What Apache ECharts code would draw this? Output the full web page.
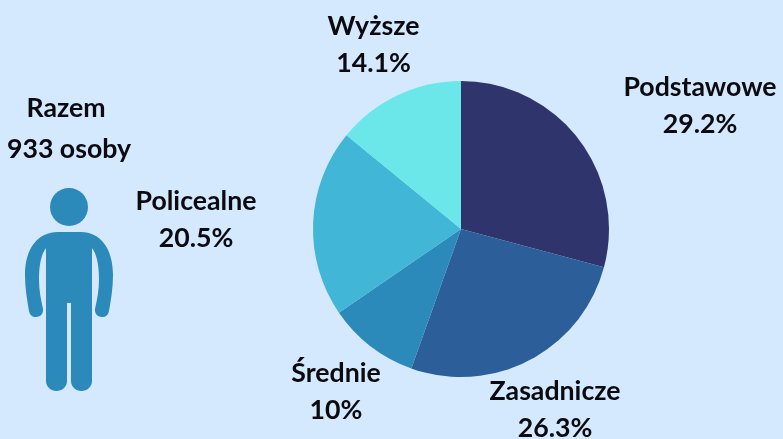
<!DOCTYPE html>
<html>
<head>
<meta charset="utf-8">
<style>html,body{margin:0;padding:0;background:#d4e9fe}#c{width:783px;height:439px}</style>
<script src="https://cdn.jsdelivr.net/npm/echarts@6/dist/echarts.min.js"></script>
</head>
<body>
<div id="c"></div>
<script>
const categories = ['Podstawowe', 'Zasadnicze', 'Średnie', 'Policealne', 'Wyższe'];
const values = [29.2, 26.3, 10, 20.5, 14.1];
const totalLines = ['Razem', '933 osoby'];

const colors = ['#2f346c', '#2c5f99', '#2c8aba', '#41b6d6', '#6be6e9'];
const labelCentres = [[700, 105.5], [555, 409.5], [336, 391.5], [196, 219.5], [373.5, 44.5]];
const font = 'Lato';
const personPath = 'M46 248 C41 255 39 265 39 280 C39 290 41 300 43 309 C43.5 314 40 317 36 317 C32 317 30 315 29 311 C27 300 25 288 25 275 C25 248 38 232 58 232 L81 232 C100 232 113 248 113 275 C113 288 111 300 109 311 C108 315 106 317 102 317 C98 317 94.5 314 95 309 C97 300 99 290 99 280 C99 265 97 255 92 248 L92 381 C92 387 87 391 81.5 391 C76 391 71 387 71 381 L71 303 L67 303 L67 381 C67 387 62 391 56.5 391 C51 391 46 387 46 381 Z';

const chart = echarts.init(document.getElementById('c'), null, {renderer: 'canvas'});
chart.setOption({
  backgroundColor: '#d4e9fe',
  animation: false,
  color: colors,
  series: [{
    type: 'pie',
    center: [461, 229],
    radius: [0, 148],
    startAngle: 90,
    clockwise: true,
    silent: true,
    data: categories.map((name, i) => ({name, value: values[i]})),
    label: {
      show: true,
      position: 'outside',
      formatter: '{b}\n{c}%',
      fontFamily: font,
      fontWeight: 700,
      fontSize: 26.7,
      lineHeight: 37,
      color: '#0b0b0f',
      align: 'center',
      verticalAlign: 'middle',
      overflow: 'none'
    },
    labelLine: {show: false},
    labelLayout: (p) => ({
      x: labelCentres[p.dataIndex][0],
      y: labelCentres[p.dataIndex][1],
      align: 'center',
      verticalAlign: 'middle'
    })
  }, {
    type: 'custom',
    coordinateSystem: 'none',
    silent: true,
    data: [[0]],
    renderItem: () => ({
      type: 'path',
      shape: {pathData: personPath, x: 25, y: 232, width: 88, height: 159, layout: 'cover'},
      style: {fill: '#2c8aba'}
    })
  }],
  graphic: [
    {type: 'text', silent: true, style: {text: totalLines[0], x: 66, y: 108, align: 'center', verticalAlign: 'middle', font: '700 26.7px ' + font, fill: '#0b0b0f'}},
    {type: 'text', silent: true, style: {text: totalLines[1], x: 69, y: 149, align: 'center', verticalAlign: 'middle', font: '700 26.7px ' + font, fill: '#0b0b0f'}},
    {type: 'circle', silent: true, shape: {cx: 69, cy: 207, r: 19}, style: {fill: '#2c8aba'}}
  ]
});
</script>
</body>
</html>
